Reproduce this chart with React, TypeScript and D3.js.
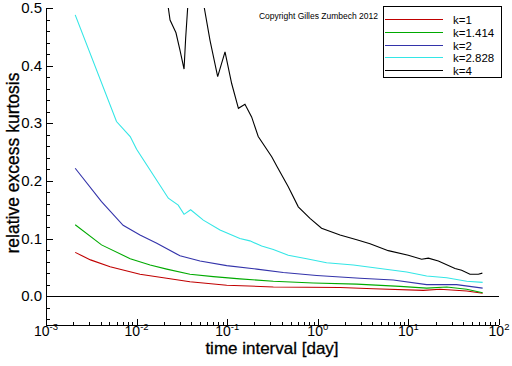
import React, { useRef, useEffect } from "react";
import * as d3 from "d3";

// k = 1
const k1Days = [0.0021, 0.0031, 0.0051, 0.0109, 0.0215, 0.0388, 0.0987, 0.323, 1.76, 4.1, 14.6, 22.3, 44, 66];
const k1Kurt = [0.076, 0.063, 0.051, 0.038, 0.031, 0.025, 0.019, 0.016, 0.015, 0.013, 0.01, 0.012, 0.009, 0.005];

// k = 1.414
const k2Days = [0.0021, 0.0041, 0.0085, 0.0141, 0.0215, 0.0388, 0.0703, 0.138, 0.323, 0.892, 2.69, 8.08, 15.9, 26.5, 44, 66];
const k2Kurt = [0.124, 0.089, 0.065, 0.054, 0.047, 0.038, 0.034, 0.03, 0.026, 0.023, 0.021, 0.017, 0.014, 0.016, 0.012, 0.006];

// k = 2
const k3Days = [0.0021, 0.0041, 0.0071, 0.0109, 0.0167, 0.0301, 0.0501, 0.0987, 0.212, 0.416, 0.972, 2.92, 6.81, 15.9, 34, 66];
const k3Kurt = [0.222, 0.164, 0.123, 0.106, 0.092, 0.07, 0.061, 0.053, 0.047, 0.041, 0.036, 0.031, 0.028, 0.02, 0.02, 0.014];

// k = 2.828
const k4Days = [0.0021, 0.006, 0.0085, 0.01, 0.0224, 0.0288, 0.0334, 0.0395, 0.0545, 0.0833, 0.138, 0.178, 0.24, 0.323, 0.472, 0.754, 1.25, 2.47, 4.86, 9.57, 15.9, 26.5, 44, 66];
const k4Kurt = [0.488, 0.303, 0.277, 0.255, 0.17, 0.158, 0.142, 0.15, 0.132, 0.115, 0.1, 0.096, 0.087, 0.081, 0.071, 0.065, 0.058, 0.054, 0.048, 0.042, 0.035, 0.032, 0.026, 0.024];

// k = 4 (partly above the plotted range)
const k5Days = [0.0141, 0.0224, 0.0234, 0.0272, 0.0301, 0.0334, 0.0348, 0.0366, 0.0453, 0.0559, 0.0646, 0.0785, 0.0946, 0.112, 0.133, 0.157, 0.186, 0.22, 0.31, 0.357, 0.472, 0.609, 0.82, 1.1, 1.76, 2.69, 3.77, 6.0, 9.97, 14.0, 16.6, 21.4, 32.7, 38.7, 47.8, 59.1, 65.5];
const k5Kurt = [0.75, 0.5, 0.479, 0.457, 0.427, 0.394, 0.448, 0.5, 0.62, 0.5, 0.444, 0.381, 0.424, 0.369, 0.326, 0.333, 0.311, 0.277, 0.242, 0.224, 0.19, 0.155, 0.135, 0.118, 0.106, 0.098, 0.091, 0.079, 0.071, 0.064, 0.066, 0.061, 0.048, 0.045, 0.038, 0.038, 0.04];

const seriesNames = ["k=1", "k=1.414", "k=2", "k=2.828", "k=4"];
const seriesColors = ["#c00000", "#00aa00", "#3333aa", "#33e6e6", "#000000"];

const xTickPowers = [-3, -2, -1, 0, 1, 2];
const yTickValues = [0, 0.1, 0.2, 0.3, 0.4, 0.5];

const FONT = "Arial, 'Liberation Sans', sans-serif";

const App = () => {
  const gRef = useRef<SVGGElement>(null);

  const width = 512,
    height = 366;
  const plot = { left: 46, right: 499, top: 8, bottom: 325 };

  useEffect(() => {
    const svg = d3.select(gRef.current);
    svg.selectAll("*").remove();

    const x = d3.scaleLog().domain([1e-3, 1e2]).range([plot.left, plot.right]);
    const y = d3.scaleLinear().domain([-0.05, 0.5]).range([plot.bottom, plot.top]);

    svg
      .append("clipPath")
      .attr("id", "plotClip")
      .append("rect")
      .attr("x", plot.left)
      .attr("y", plot.top)
      .attr("width", plot.right - plot.left)
      .attr("height", plot.bottom - plot.top);

    // zero line
    svg
      .append("line")
      .attr("x1", plot.left)
      .attr("x2", plot.right)
      .attr("y1", Math.round(y(0)) + 0.5)
      .attr("y2", Math.round(y(0)) + 0.5)
      .attr("stroke", "#000")
      .attr("stroke-width", 1);

    // series
    const allDays = [k1Days, k2Days, k3Days, k4Days, k5Days];
    const allKurt = [k1Kurt, k2Kurt, k3Kurt, k4Kurt, k5Kurt];
    const line = d3
      .line<[number, number]>()
      .x((d) => x(d[0]))
      .y((d) => y(d[1]));

    const lines = svg.append("g").attr("clip-path", "url(#plotClip)");
    allDays.forEach((days, i) => {
      const pts = days.map((d, j) => [d, allKurt[i][j]] as [number, number]);
      lines
        .append("path")
        .attr("d", line(pts))
        .attr("fill", "none")
        .attr("stroke", seriesColors[i])
        .attr("stroke-width", 1.1);
    });

    // axes lines
    const axes = svg.append("g").attr("stroke", "#000").attr("stroke-width", 1);
    axes
      .append("line")
      .attr("x1", plot.left + 0.5)
      .attr("x2", plot.left + 0.5)
      .attr("y1", plot.top)
      .attr("y2", plot.bottom);
    axes
      .append("line")
      .attr("x1", plot.left)
      .attr("x2", plot.right)
      .attr("y1", plot.bottom + 0.5)
      .attr("y2", plot.bottom + 0.5);

    // y ticks (inward)
    const yMinor = d3.range(-0.04, 0.5001, 0.02);
    yMinor.forEach((v) => {
      const major = Math.abs(v * 10 - Math.round(v * 10)) < 1e-6;
      axes
        .append("line")
        .attr("x1", plot.left)
        .attr("x2", plot.left + (major ? 7 : 4))
        .attr("y1", Math.round(y(v)) + 0.5)
        .attr("y2", Math.round(y(v)) + 0.5);
    });
    svg
      .append("g")
      .selectAll("text")
      .data(yTickValues)
      .enter()
      .append("text")
      .attr("x", plot.left - 4)
      .attr("y", (d) => y(d) + 5)
      .attr("text-anchor", "end")
      .attr("font-family", FONT)
      .attr("font-size", 15)
      .text((d) => d3.format(".1f")(d));

    // x ticks (inward)
    xTickPowers.forEach((p) => {
      const xm = Math.round(x(10 ** p)) + 0.5;
      axes
        .append("line")
        .attr("x1", xm)
        .attr("x2", xm)
        .attr("y1", plot.bottom)
        .attr("y2", plot.bottom - 6);
      if (p < 2) {
        for (let m = 2; m <= 9; m++) {
          const xv = Math.round(x(m * 10 ** p)) + 0.5;
          axes
            .append("line")
            .attr("x1", xv)
            .attr("x2", xv)
            .attr("y1", plot.bottom)
            .attr("y2", plot.bottom - 3);
        }
      }
    });
    const xLabels = svg
      .append("g")
      .selectAll("text")
      .data(xTickPowers)
      .enter()
      .append("text")
      .attr("x", (d) => x(10 ** d))
      .attr("y", 335.5)
      .attr("text-anchor", "middle")
      .attr("font-family", FONT)
      .attr("font-size", 14);
    xLabels.append("tspan").text("10");
    xLabels
      .append("tspan")
      .attr("dy", -6)
      .attr("font-size", 9.5)
      .text((d) => String(d).replace("-", "\u2010"));

    // axis titles
    svg
      .append("text")
      .attr("x", 272)
      .attr("y", 354)
      .attr("text-anchor", "middle")
      .attr("font-family", FONT)
      .attr("font-size", 17)
      .attr("stroke", "#000")
      .attr("stroke-width", 0.3)
      .text("time interval [day]");
    svg
      .append("text")
      .attr("transform", "rotate(-90)")
      .attr("x", -163)
      .attr("y", 19)
      .attr("text-anchor", "middle")
      .attr("font-family", FONT)
      .attr("font-size", 17.5)
      .attr("stroke", "#000")
      .attr("stroke-width", 0.3)
      .text("relative excess kurtosis");

    // copyright
    svg
      .append("text")
      .attr("x", 378)
      .attr("y", 19)
      .attr("text-anchor", "end")
      .attr("font-family", FONT)
      .attr("font-size", 8.5)
      .text("Copyright Gilles Zumbech 2012");

    // legend entries
    const legend = svg.append("g");
    seriesNames.forEach((name, i) => {
      const ly = Math.round(19 + i * 12.75) + 0.5;
      legend
        .append("line")
        .attr("x1", 385)
        .attr("x2", 443)
        .attr("y1", ly)
        .attr("y2", ly)
        .attr("stroke", seriesColors[i])
        .attr("stroke-width", 1.2);
      legend
        .append("text")
        .attr("x", 453)
        .attr("y", ly + 4.5)
        .attr("font-family", FONT)
        .attr("font-size", 11.5)
        .text(name);
    });
  }, []);

  return (
    <svg
      width={width}
      height={height}
      style={{ position: "absolute", left: 0, top: 0, background: "#fff" }}
    >
      <g ref={gRef} />
      {/* legend frame, on top */}
      <rect x={383.5} y={6.5} width={118} height={71} fill="none" stroke="#000" strokeWidth={1} />
    </svg>
  );
};

export default App;
